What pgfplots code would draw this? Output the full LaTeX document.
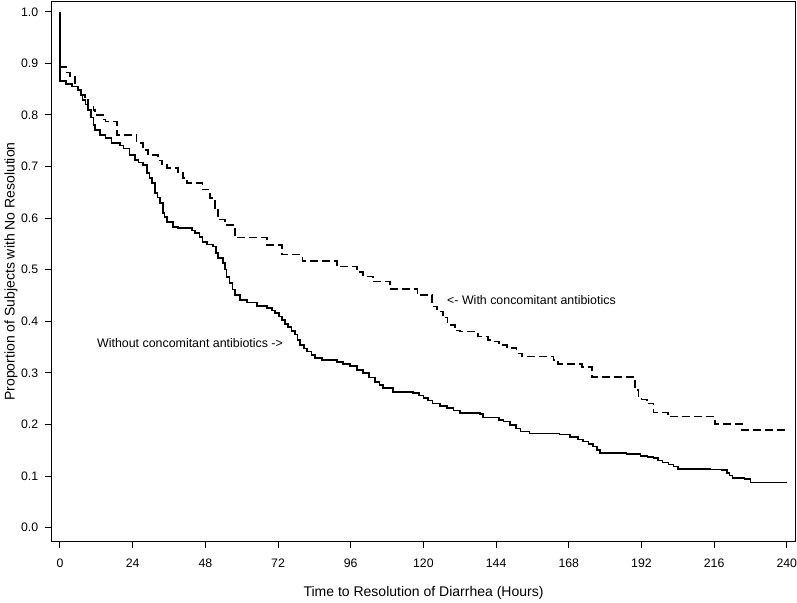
\documentclass[border=0pt]{standalone}
\usepackage{pgfplots}
\pgfplotsset{compat=1.18}
\usepackage{fontspec}
\setmainfont{Liberation Sans}
\pgfplotstableread{
x y
0 1.0
0 0.866
2 0.860
4 0.855
6 0.849
7 0.840
7.5 0.829
8.5 0.820
9.3 0.810
10.3 0.795
11 0.781
11.6 0.771
13.2 0.761
15 0.755
17 0.746
19.8 0.741
21 0.735
23 0.722
24.8 0.713
26 0.708
27.4 0.703
28.7 0.687
29.5 0.678
30.3 0.668
31.3 0.649
32.2 0.640
33 0.629
34 0.610
34.5 0.602
35.3 0.592
37.3 0.583
39 0.581
43.6 0.576
44.6 0.571
46 0.563
47 0.554
48.5 0.549
50.5 0.545
51.5 0.532
52.2 0.523
53.8 0.513
54.5 0.500
55 0.486
56 0.474
57 0.462
57.8 0.451
59.4 0.441
61.8 0.436
65 0.430
68.4 0.426
70 0.421
71 0.416
72.3 0.409
73.3 0.402
74.3 0.395
75.3 0.389
76.5 0.381
77.6 0.374
78.5 0.364
79.3 0.354
80.5 0.347
81.6 0.341
83 0.335
84.2 0.329
86.5 0.325
91.5 0.321
93.5 0.317
95.8 0.313
98 0.306
100 0.300
102 0.291
104 0.282
105.5 0.276
106.7 0.271
110 0.263
116.6 0.261
118.5 0.256
120 0.251
121.5 0.246
123 0.241
125.5 0.236
127.8 0.232
130 0.227
132 0.222
138.7 0.220
139.7 0.213
145 0.209
146.5 0.206
148.6 0.199
150.5 0.192
152 0.186
155 0.182
165 0.180
168.4 0.176
171 0.171
172.7 0.167
174.5 0.162
176 0.157
177.3 0.150
178.3 0.145
187 0.143
191.6 0.139
194 0.137
196 0.135
197.5 0.130
199 0.126
201 0.122
202.5 0.118
204 0.114
214.7 0.113
218.6 0.112
220.3 0.106
221 0.101
222 0.096
226 0.094
228 0.087
240 0.087
}\without
\pgfplotstableread{
x y
0 0.893
2.2 0.882
3.3 0.876
5 0.855
6 0.848
7 0.839
8.3 0.829
9.3 0.818
11 0.810
11.6 0.800
14.3 0.791
15 0.787
18.9 0.761
25.3 0.746
27.4 0.732
29 0.722
32.4 0.712
33.7 0.703
35.3 0.697
39 0.688
40.6 0.678
42 0.668
47 0.655
49.5 0.639
51.2 0.620
52.2 0.597
54.5 0.587
57.8 0.562
68.4 0.548
73.3 0.529
80 0.517
91.5 0.506
98 0.496
100 0.487
103.4 0.477
109 0.463
118 0.451
122.9 0.429
124.5 0.419
126.5 0.407
128 0.393
130.4 0.382
132 0.380
138 0.370
141.4 0.364
143 0.361
145 0.354
147.6 0.348
150.8 0.338
152.6 0.332
163 0.325
164.5 0.317
172.4 0.311
175.7 0.292
189.9 0.267
191 0.254
192 0.248
193.9 0.241
196 0.223
200.8 0.215
216.3 0.201
225.2 0.189
240.5 0.189
}\withab
\begin{document}
\fontsize{14}{16}\selectfont
\begin{tikzpicture}
\begin{axis}[
  scale only axis, width=743pt, height=539pt,
  xmin=-2.64, xmax=242.7, ymin=-0.026, ymax=1.019,
  xtick={0,24,48,72,96,120,144,168,192,216,240},
  ytick={0,0.1,0.2,0.3,0.4,0.5,0.6,0.7,0.8,0.9,1.0},
  yticklabel style={xshift=-2pt, /pgf/number format/.cd, fixed, fixed zerofill, precision=1},
  /pgf/number format/assume math mode=true,
  ticklabel style={font=\fontsize{12.3}{14}\selectfont},
  label style={font=\fontsize{14}{16}\selectfont},
  tick align=outside, tick pos=left, major tick length=7pt,
  tick style={black, line width=1pt},
  axis line style={line width=1pt},
  xlabel={Time to Resolution of Diarrhea (Hours)},
  ylabel={Proportion of Subjects with No Resolution},
  xlabel style={yshift=-9pt},
  ylabel style={yshift=-6pt},
  xticklabel style={yshift=-6pt},
]
\addplot[const plot, black, line width=1.5pt] table[x=x,y=y] {\without};
\addplot[const plot, black, line width=1.5pt, dash pattern=on 8pt off 4pt] table[x=x,y=y] {\withab};
\node[anchor=west, inner sep=0pt, font=\fontsize{12.4}{14}\selectfont] at (axis cs:127.8,0.4415) {<- With concomitant antibiotics};
\node[anchor=west, inner sep=0pt, font=\fontsize{12.4}{14}\selectfont] at (axis cs:12.2,0.358) {Without concomitant antibiotics ->};
\end{axis}
\pgfresetboundingbox
\path ([shift={(-52pt,-61pt)}]current axis.south west) rectangle ([shift={(2pt,2pt)}]current axis.north east);
\end{tikzpicture}
\end{document}
